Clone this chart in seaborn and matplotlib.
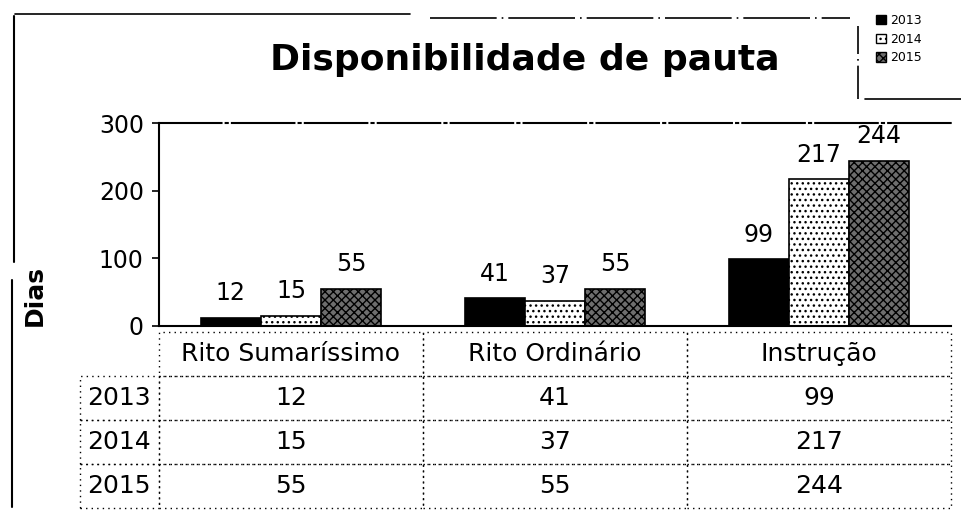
import matplotlib
matplotlib.use('Agg')
import matplotlib.pyplot as plt
from matplotlib.lines import Line2D
from matplotlib.patches import Patch
import seaborn as sns
import pandas as pd

# data
categories = ['Rito Sumaríssimo', 'Rito Ordinário', 'Instrução']
years = ['2013', '2014', '2015']
dias_2013 = [12, 41, 99]
dias_2014 = [15, 37, 217]
dias_2015 = [55, 55, 244]
yticks = [0, 100, 200, 300]

values = {'2013': dias_2013, '2014': dias_2014, '2015': dias_2015}
df = pd.DataFrame([
  {'categoria': c, 'ano': y, 'dias': values[y][i]}
  for y in years for i, c in enumerate(categories)
])

sns.set_theme(style='white')
plt.rcParams['font.family'] = ['DejaVu Sans']
plt.rcParams['text.color'] = 'black'
plt.rcParams['axes.labelcolor'] = 'black'
plt.rcParams['xtick.color'] = 'black'
plt.rcParams['ytick.color'] = 'black'
plt.rcParams['hatch.linewidth'] = 1.0

fig = plt.figure(figsize=(9.61, 5.23), dpi=100)
ax = fig.add_axes([0.1655, 0.3767, 0.824, 0.388])

sns.barplot(data=df, x='categoria', y='dias', hue='ano', order=categories,
            hue_order=years, width=0.685, dodge=True, ax=ax, legend=False,
            edgecolor='black', linewidth=1.2)

# fills: solid black / light dotted / dense speckle
styles = [('black', ''), ('white', '...'), ('#6e6e6e', 'xxxx')]
for cont, (fc, hatch) in zip(ax.containers, styles):
  for bar in cont:
    bar.set_facecolor(fc)
    bar.set_hatch(hatch)
    bar.set_edgecolor('black')
  ax.bar_label(cont, labels=[str(int(b.get_height())) for b in cont],
               padding=9, fontsize=17, color='black')

ax.set_ylim(0, 300)
ax.set_yticks(yticks)
ax.set_yticklabels([str(t) for t in yticks], fontsize=17)
ax.set_xlim(-0.5, 2.5)
ax.set_xticks([])
ax.set_xlabel('')
ax.set_ylabel('')
ax.tick_params(axis='y', left=True, length=5, width=1.2, color='black', pad=6)
for side in ['left', 'bottom']:
  ax.spines[side].set_color('black')
  ax.spines[side].set_linewidth(1.5)
ax.spines['top'].set_color('black')
ax.spines['top'].set_linewidth(1.5)
ax.spines['top'].set_linestyle((0, (30, 2, 1, 2)))
ax.spines['right'].set_visible(False)

# data table under the chart
cell_text = [[y] + [str(v) for v in values[y]] for y in years]
tab = ax.table(cellText=cell_text, colLabels=[''] + categories,
               cellLoc='center', bbox=[-0.1, -0.897, 1.1, 0.867],
               colWidths=[79, 264, 264, 264])
tab.auto_set_font_size(False)
tab.set_fontsize(18)
for (r, c), cell in tab.get_celld().items():
  cell.set_edgecolor('black')
  cell.set_linewidth(1.0)
  cell.set_linestyle((0, (1, 3)))
  cell.set_facecolor('none')
  if c == 0:
    cell._loc = 'left'
    cell.PAD = 0.02
  if r == 0 and c == 0:
    cell.visible_edges = ''

fig.text(0.546, 1 - 70 / 523, 'Disponibilidade de pauta', ha='center',
         va='baseline', fontsize=26, fontweight='bold')
fig.text(0.036, 1 - 295 / 523, 'Dias', rotation=90, ha='center', va='center',
         fontsize=18, fontweight='bold')

handles = [Patch(facecolor=fc, edgecolor='black', hatch=h) for fc, h in styles]
leg = fig.legend(handles, years, loc='upper left',
                 bbox_to_anchor=(866 / 961, 1 - 4 / 523), fontsize=9,
                 frameon=False, handlelength=0.8, handleheight=0.8,
                 handletextpad=0.3, labelspacing=0.45, borderpad=0.3)

# scan border lines
fig.add_artist(Line2D([0.015, 0.015], [0.5, 0.97], color='black', lw=1.5))
fig.add_artist(Line2D([0.013, 0.013], [0.03, 0.465], color='black', lw=1.5))
fig.add_artist(Line2D([0.016, 0.427], [0.973, 0.973], color='black', lw=1.2))
fig.add_artist(Line2D([0.447, 0.885], [0.966, 0.966], color='black', lw=1.2,
                      linestyle=(0, (40, 3, 1, 3))))
fig.add_artist(Line2D([0.893, 0.893], [0.81, 0.95], color='black', lw=1.2,
                      linestyle=(0, (20, 3, 1, 3))))
fig.add_artist(Line2D([0.9, 1.0], [0.81, 0.81], color='black', lw=1.2))

fig.savefig('out.png', dpi=100)
